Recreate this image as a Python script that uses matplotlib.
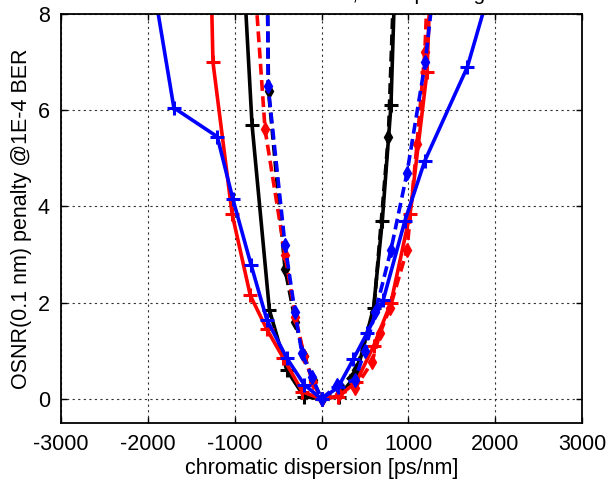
import matplotlib
matplotlib.use("Agg")
import matplotlib.pyplot as plt

plt.rcParams['font.family'] = ['Liberation Sans', 'DejaVu Sans']
plt.rcParams['axes.unicode_minus'] = False

# chromatic dispersion [ps/nm] and OSNR penalty [dB] per curve
# black solid
cd_k = [-900, -800, -600, -400, -200, 0, 200, 400, 600, 700, 800, 850]
pen_k = [9.0, 5.7, 1.85, 0.6, 0.05, 0.0, 0.05, 0.5, 1.9, 3.7, 6.1, 9.0]
# black dashed
cd_kd = [-630, -610, -420, -300, -200, -100, 0, 200, 400, 600, 770, 840]
pen_kd = [9.5, 6.4, 2.7, 1.6, 0.9, 0.4, 0.0, 0.2, 0.6, 1.8, 5.45, 9.0]
# red solid
cd_r = [-1300, -1250, -1030, -820, -630, -440, -220, 0, 190, 400, 600, 800, 1020, 1215, 1260]
pen_r = [11.0, 7.0, 3.85, 2.15, 1.45, 0.85, 0.15, 0.0, 0.05, 0.35, 1.1, 2.0, 3.85, 6.8, 9.0]
# red dashed
cd_rd = [-820, -650, -420, -300, -200, -100, 0, 200, 385, 580, 675, 790, 985, 1100, 1190, 1230]
pen_rd = [10.0, 5.6, 3.0, 1.7, 0.9, 0.35, 0.0, 0.1, 0.22, 0.76, 1.37, 1.9, 3.1, 5.3, 7.2, 9.0]
# blue solid
cd_b = [-2000, -1700, -1200, -1020, -810, -630, -400, -200, 0, 190, 365, 525, 710, 960, 1190, 1680, 2000]
pen_b = [9.3, 6.05, 5.45, 4.15, 2.78, 1.65, 0.85, 0.3, 0.0, 0.24, 0.82, 1.37, 2.05, 3.7, 4.95, 6.9, 8.9]
# blue dashed
cd_bd = [-625, -615, -420, -305, -225, -110, 0, 180, 385, 500, 620, 800, 985, 1195, 1350]
pen_bd = [10.0, 6.5, 3.2, 1.8, 0.95, 0.45, 0.0, 0.28, 0.4, 1.0, 1.8, 3.1, 4.7, 7.0, 9.5]

fig = plt.figure(figsize=(6.08, 4.79), dpi=100)
ax = fig.add_axes([61/608, 56/479, 521/608, 409/479])

lw = 2.6
ax.plot(cd_k, pen_k, '-', color='black', lw=lw, marker='+', ms=10, mew=2.2)
ax.plot(cd_kd, pen_kd, '--', color='black', lw=lw, marker='d', ms=7, dashes=(3, 1.5))
ax.plot(cd_r, pen_r, '-', color='red', lw=lw, marker='+', ms=10, mew=2.2)
ax.plot(cd_rd, pen_rd, '--', color='red', lw=lw, marker='d', ms=7, dashes=(3, 1.5))
ax.plot(cd_b, pen_b, '-', color='blue', lw=lw, marker='+', ms=10, mew=2.2)
ax.plot(cd_bd, pen_bd, '--', color='blue', lw=lw, marker='d', ms=7, dashes=(3, 1.5))

ax.set_xlim(-3000, 3000)
ax.set_ylim(-0.5, 8)
ax.set_xticks([-3000, -2000, -1000, 0, 1000, 2000, 3000])
ax.set_yticks([0, 2, 4, 6, 8])
ax.grid(True, color='#333333', linestyle=(0, (2, 3)), linewidth=0.8)
ax.tick_params(direction='in', length=4, width=1, top=True, right=True,
               labelsize=15.5, pad=8)
for s in ax.spines.values():
    s.set_linewidth(1.3)

ax.set_xlabel('chromatic dispersion [ps/nm]', fontsize=15.5, labelpad=2)
ax.set_ylabel('OSNR(0.1 nm) penalty @1E-4 BER', fontsize=15.5, labelpad=4)

# title sits mostly above the figure edge, only its descenders show
fig.text(250/608, 0.999, '40G DPSK, 10 Tap Design', fontsize=15,
         ha='left', va='baseline')

fig.savefig('out.png', dpi=100)
